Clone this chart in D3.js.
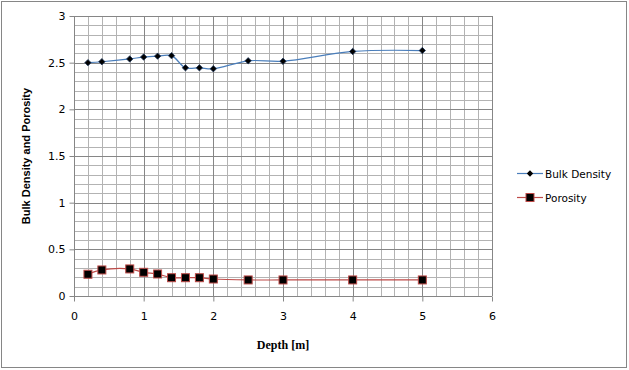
<!DOCTYPE html>
<html>
<head>
<meta charset="utf-8">
<script src="https://cdn.jsdelivr.net/npm/d3@7/dist/d3.min.js"></script>
<style>
  body { margin: 0; background: #fff; }
  text { font-family: "DejaVu Sans", Verdana, sans-serif; }
</style>
</head>
<body>
<div id="chart-area"></div>
<script>
var depth = [0.2, 0.4, 0.8, 1.0, 1.2, 1.4, 1.6, 1.8, 2.0, 2.5, 3, 4, 5];
var bulkDensity = [2.50, 2.51, 2.54, 2.56, 2.57, 2.575, 2.445, 2.445, 2.435, 2.52, 2.515, 2.62, 2.63];
var porosity = [0.233, 0.279, 0.29, 0.254, 0.236, 0.196, 0.196, 0.196, 0.182, 0.172, 0.172, 0.172, 0.172];
var xTicks = [0, 1, 2, 3, 4, 5, 6];
var yTicks = [0, 0.5, 1, 1.5, 2, 2.5, 3];

var W = 629, H = 370;
var margin = {left: 74, right: 137, top: 16, bottom: 74};
var width = W - margin.left - margin.right,
    height = H - margin.top - margin.bottom;

var svg = d3.select("#chart-area").append("svg")
    .attr("width", W)
    .attr("height", H);

// outer frame
svg.append("rect")
    .attr("x", 1.5).attr("y", 1.5)
    .attr("width", W - 4).attr("height", H - 4)
    .attr("fill", "#fff")
    .attr("stroke", "#868686");

var g = svg.append("g")
    .attr("transform", "translate(" + margin.left + "," + margin.top + ")");

var x = d3.scaleLinear().domain([0, 6]).range([0, width]);
var y = d3.scaleLinear().domain([0, 3]).range([height, 0]);

// minor grid
g.append("g")
    .selectAll("line")
    .data(d3.range(0, 30.5, 1).map(function (d) { return d / 5; }))
    .enter().append("line")
    .attr("x1", function (d) { return Math.round(x(d)) + 0.5; })
    .attr("x2", function (d) { return Math.round(x(d)) + 0.5; })
    .attr("y1", 0).attr("y2", height)
    .attr("stroke", "#b3b3b3");

g.append("g")
    .selectAll("line")
    .data(d3.range(0, 30.5, 1).map(function (d) { return d / 10; }))
    .enter().append("line")
    .attr("y1", function (d) { return Math.round(y(d)) + 0.5; })
    .attr("y2", function (d) { return Math.round(y(d)) + 0.5; })
    .attr("x1", 0).attr("x2", width)
    .attr("stroke", "#b3b3b3");

// major grid
g.append("g")
    .selectAll("line")
    .data(xTicks)
    .enter().append("line")
    .attr("x1", function (d) { return Math.round(x(d)) + 0.5; })
    .attr("x2", function (d) { return Math.round(x(d)) + 0.5; })
    .attr("y1", 0).attr("y2", height)
    .attr("stroke", "#868686");

g.append("g")
    .selectAll("line")
    .data(yTicks)
    .enter().append("line")
    .attr("y1", function (d) { return Math.round(y(d)) + 0.5; })
    .attr("y2", function (d) { return Math.round(y(d)) + 0.5; })
    .attr("x1", 0).attr("x2", width)
    .attr("stroke", "#868686");

// axes
var xAxis = g.append("g")
    .attr("transform", "translate(0," + (Math.round(height) + 0.5) + ")")
    .call(d3.axisBottom(x).tickValues(xTicks).tickSize(5).tickPadding(11).tickFormat(d3.format("d")));
var yAxis = g.append("g")
    .attr("transform", "translate(0.5,0)")
    .call(d3.axisLeft(y).tickValues(yTicks).tickSize(5).tickPadding(4).tickFormat(function (d) { return d; }));
[xAxis, yAxis].forEach(function (a) {
  a.selectAll("path, line").attr("stroke", "#868686");
  a.selectAll("text").attr("font-size", "11px").attr("fill", "#000");
});
xAxis.select(".domain").remove();
yAxis.select(".domain").remove();

// axis titles
g.append("text")
    .attr("x", width / 2)
    .attr("y", height + 53)
    .attr("text-anchor", "middle")
    .style("font-family", "'Liberation Serif', 'Times New Roman', serif")
    .style("font-size", "12px")
    .style("font-weight", "bold")
    .text("Depth [m]");

g.append("text")
    .attr("transform", "rotate(-90)")
    .attr("x", -height / 2)
    .attr("y", -44)
    .attr("text-anchor", "middle")
    .style("font-family", "'Liberation Sans', Arial, sans-serif")
    .style("font-size", "11px")
    .style("font-weight", "bold")
    .text("Bulk Density and Porosity");

var smoothLine = d3.line()
    .x(function (d, i) { return x(depth[i]); })
    .y(function (d) { return y(d); })
    .curve(d3.curveCatmullRom.alpha(0.5));

g.append("path")
    .datum(bulkDensity)
    .attr("d", smoothLine)
    .attr("fill", "none")
    .attr("stroke", "#4a7ebb")
    .attr("stroke-width", 1.2);

g.append("path")
    .datum(porosity)
    .attr("d", smoothLine)
    .attr("fill", "none")
    .attr("stroke", "#be4b48")
    .attr("stroke-width", 1.2);

// markers
g.selectAll(".bd")
    .data(bulkDensity)
    .enter().append("path")
    .attr("class", "bd")
    .attr("transform", function (d, i) { return "translate(" + x(depth[i]) + "," + y(d) + ")"; })
    .attr("d", d3.symbol().type(d3.symbolDiamond2).size(26))
    .attr("fill", "#000")
    .attr("stroke", "#1f3a60")
    .attr("stroke-width", 0.8);

g.selectAll(".po")
    .data(porosity)
    .enter().append("rect")
    .attr("class", "po")
    .attr("x", function (d, i) { return x(depth[i]) - 4; })
    .attr("y", function (d) { return y(d) - 4; })
    .attr("width", 8).attr("height", 8)
    .attr("fill", "#000")
    .attr("stroke", "#be4b48")
    .attr("stroke-width", 1);

// legend
var legend = svg.append("g").attr("transform", "translate(517,173)");
var items = [
  {name: "Bulk Density", color: "#4a7ebb", type: "diamond"},
  {name: "Porosity", color: "#be4b48", type: "square"}
];
items.forEach(function (it, i) {
  var row = legend.append("g").attr("transform", "translate(0," + (i * 24) + ")");
  row.append("line")
      .attr("x1", 0).attr("x2", 26).attr("y1", 0.5).attr("y2", 0.5)
      .attr("stroke", it.color).attr("stroke-width", 1.2);
  if (it.type == "diamond") {
    row.append("path")
        .attr("transform", "translate(13,0.5)")
        .attr("d", d3.symbol().type(d3.symbolDiamond2).size(26))
        .attr("fill", "#000");
  } else {
    row.append("rect")
        .attr("x", 9).attr("y", -3.5).attr("width", 8).attr("height", 8)
        .attr("fill", "#000").attr("stroke", it.color);
  }
  row.append("text")
      .attr("x", 28).attr("y", 4.5)
      .style("font-size", "10.5px")
      .text(it.name);
});
</script>
</body>
</html>
